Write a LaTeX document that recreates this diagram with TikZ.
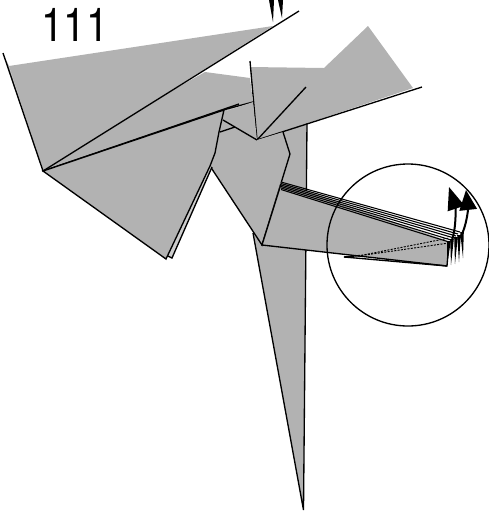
\documentclass[tikz,border=0pt]{standalone}
\usepackage{fontspec}
\setmainfont{TeX Gyre Heros}
\usetikzlibrary{arrows.meta}
\definecolor{PaperGray}{RGB}{178,178,178}
\definecolor{SliverGray}{RGB}{205,205,205}
\tikzset{
  foldline/.style={line width=1pt, line join=miter, black},
  paper/.style={fill=PaperGray, draw=none},
}
\begin{document}
\begin{tikzpicture}[x=0.75pt,y=-0.75pt]
  \useasboundingbox (0,0) rectangle (489,512);
  \clip (0,0) rectangle (489,512);
  \node[anchor=base, font=\fontsize{35}{35}\selectfont, xscale=0.86, transform shape] (steplabel) at (75,41) {111};

  % tail spike
  \fill[paper] (253,233) -- (262,120) -- (307,123) -- (303.5,510) -- cycle;
  \draw[foldline] (307,123) -- (303.5,510) -- (253,233);

  % top right flap
  \fill[paper] (250,67) -- (324,68) -- (368,26) -- (413,88) -- (257,140) -- cycle;
  \draw[foldline] (250,61) -- (257,140) -- (422,87);
  \draw[foldline] (257,140) -- (306,87);

  % back wing
  \fill[paper] (205,72) -- (250,78) -- (253,102) -- (223,112) -- (43,171) -- (120,120) -- cycle;
  \fill[paper] (9,66) -- (273,26) -- (43,171) -- cycle;
  \fill[paper] (3,53) -- (9,66) -- (43,171) -- cycle;
  \draw[foldline] (3,53) -- (43,171) -- (299,11);
  \draw[foldline] (43,171) -- (239,104);
  \draw[foldline] (223,110) -- (253,102);

  % body
  \fill[paper] (223,112) -- (253,102) -- (257,140) -- (283,132) -- (290,154) -- (262,245) -- (210,166) -- cycle;
  \draw[foldline] (223,120) -- (257,140);
  \draw[foldline] (220,132) -- (235,127);
  \draw[foldline] (283,132) -- (290,154) -- (262,245) -- (210,166);

  % front wing
  \fill[SliverGray] (212,167) -- (172,258) -- (168,256) -- (208,165) -- cycle;
  \draw[foldline] (212,167) -- (172,258) -- (168,256);
  \fill[paper] (43,171) -- (224,110) -- (219,132) -- (215,153) -- (210,166) -- (166,259) -- cycle;
  \draw[foldline] (43,171) -- (224,110) -- (219,132) -- (215,153) -- (210,166) -- (166,259) -- cycle;

  % arm and its layers
  \fill[paper] (262,245) -- (281,182) -- (448,241) -- (447,266) -- cycle;
  \draw[foldline] (281,184) -- (262,245) -- (447,266) -- (449,241);
  \draw[foldline] (344,257) -- (447,266);
  \draw[foldline] (344,257) -- (360,255.5);
  \foreach \ya/\xb/\yb in {182/460/232,183.5/458/234,185/456/236,186.5/454/238,188/451/240,189.5/449/242}
  {
    \draw[line width=0.8pt] (281,\ya) -- (\xb,\yb);
  }
  \draw[line width=0.7pt, dash pattern=on 1.5pt off 1pt] (358,256) -- (449,238);
  \draw[line width=0.7pt, dash pattern=on 1.5pt off 1pt] (358,256) -- (449,243);

  % pleats
  \foreach \xa/\ya/\xb/\yb in {449/241/447/266,452/239/451/265,456/237/455/264,459/235/459/262,462/232/463/258}
  {
    \fill (\xa-1.8,\ya) -- (\xa+1.8,\ya) -- (\xb,\yb) -- cycle;
  }

  % zoom circle
  \draw[foldline] (408,245) circle (81);

  % lift arrows
  \coordinate (arrowa) at (452,240);
  \coordinate (arrowb) at (460,238);
  \draw[line width=1.5pt, -{Triangle[length=17pt,width=13pt]}] (arrowa) .. controls (457,225) and (455,205) .. (449,187);
  \draw[line width=1.5pt, -{Triangle[length=15pt,width=13pt]}] (arrowb) .. controls (467,226) and (468,208) .. (466,190);

  % top spikes, cut by the page
  \fill (269,0) -- (273,22) -- (274,0) -- cycle;
  \fill (278,0) -- (282,18) -- (283,0) -- cycle;
\end{tikzpicture}
\end{document}
